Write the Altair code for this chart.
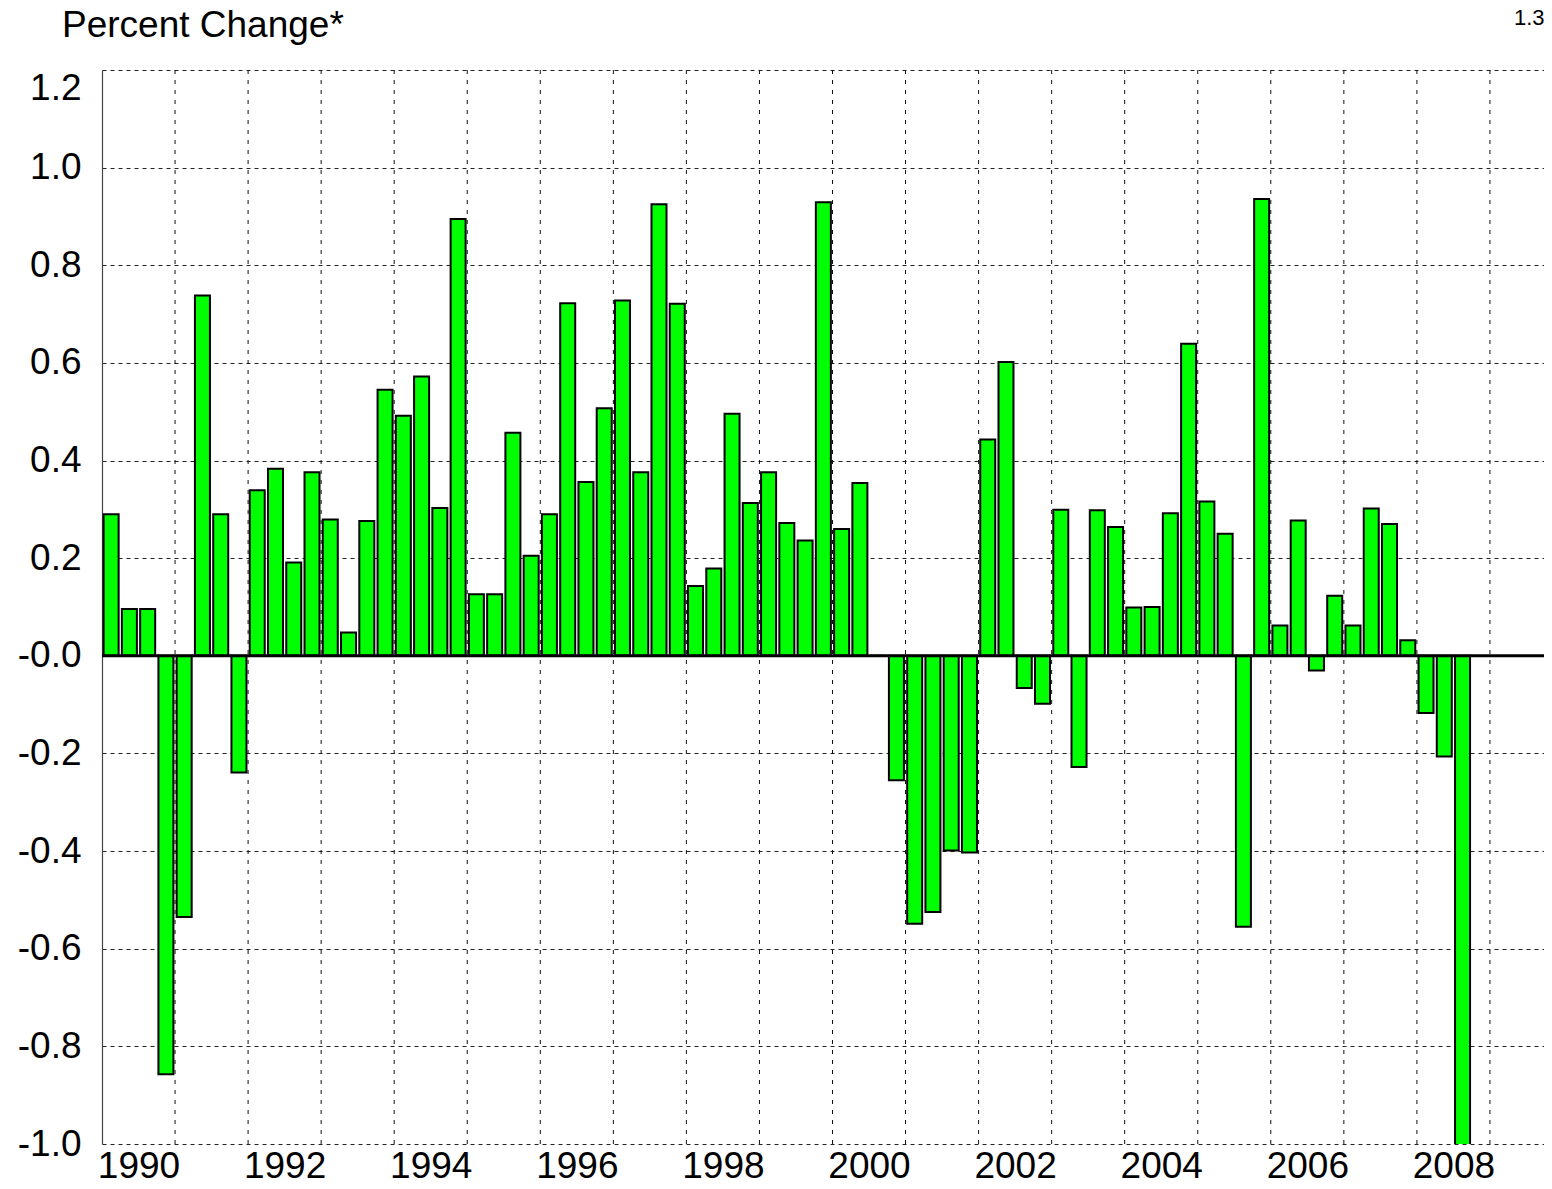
import altair as alt
import pandas as pd

# ---- data (quarterly, 1990 Q1 .. 2008 Q4) ----
start_year = 1990
values = [
    0.290, 0.096, 0.096, -0.857,   # 1990
    -0.535, 0.738, 0.290, -0.239,  # 1991
    0.339, 0.383, 0.191, 0.376,    # 1992
    0.279, 0.048, 0.276, 0.545,    # 1993
    0.492, 0.572, 0.303, 0.895,    # 1994
    0.126, 0.126, 0.457, 0.205,    # 1995
    0.290, 0.722, 0.356, 0.507,    # 1996
    0.728, 0.376, 0.925, 0.721,    # 1997
    0.143, 0.179, 0.496, 0.313,    # 1998
    0.376, 0.272, 0.236, 0.929,    # 1999
    0.260, 0.354, 0.0, -0.255,     # 2000
    -0.549, -0.525, -0.399, -0.403,  # 2001
    0.443, 0.602, -0.066, -0.098,  # 2002
    0.299, -0.228, 0.298, 0.264,   # 2003
    0.099, 0.100, 0.292, 0.639,    # 2004
    0.316, 0.250, -0.555, 0.936,   # 2005
    0.062, 0.277, -0.030, 0.123,   # 2006
    0.062, 0.302, 0.270, 0.032,    # 2007
    -0.117, -0.206, -1.30, None,   # 2008
]
year_lines = list(range(1991, 2010))
label_years = list(range(1990, 2009, 2))
y_ticks = [-1.0, -0.8, -0.6, -0.4, -0.2, 0.0, 0.2, 0.4, 0.6, 0.8, 1.0, 1.2]
title_text = ["Percent Change*"]
corner_text = ["1.3"]

rows = []
for i, v in enumerate(values):
    if v is None:
        continue
    rows.append({"t": start_year + (i + 0.5) / 4.0, "v": v})
df = pd.DataFrame(rows)

FONT = "Liberation Sans"
x_scale = alt.Scale(domain=[1990, 2009.74], nice=False, zero=False, padding=0)
y_scale = alt.Scale(domain=[-1.0, 1.2], nice=False, zero=False, padding=0)

vgrid = alt.Chart(pd.DataFrame({"yr": year_lines})).mark_rule(
    color="#111", strokeWidth=1, strokeDash=[4, 6]
).encode(x=alt.X("yr:Q", scale=x_scale))

bars = alt.Chart(df).mark_bar(
    fill="#00FF00", stroke="#000000", strokeWidth=2, width=15, clip=True
).encode(
    x=alt.X(
        "t:Q",
        scale=x_scale,
        axis=alt.Axis(
            values=[y + 0.5 for y in label_years],
            labelExpr="'' + floor(datum.value)",
            grid=False, ticks=False, domain=False,
            labelFont=FONT, labelFontSize=37, labelColor="#000",
            labelPadding=4, labelFlush=False, title=None,
        ),
    ),
    y=alt.Y(
        "v:Q",
        scale=y_scale,
        axis=alt.Axis(
            values=y_ticks,
            labelExpr="datum.value == 0 ? '-0.0' : (datum.value < 0 ? '-' : '') + format(abs(datum.value), '.1f')",
            grid=True, gridDash=[4, 4], gridColor="#222", gridWidth=1,
            ticks=False, domain=True, domainColor="#444", domainWidth=1.2,
            labelFont=FONT, labelFontSize=37, labelColor="#000",
            labelPadding=21, labelFlush=False, title=None,
            labelBaseline={"condition": {"test": "datum.value > 1.1", "value": "top"}, "value": "middle"},
        ),
    ),
)

zero = alt.Chart(pd.DataFrame({"z": [0.0]})).mark_rule(
    color="#000", strokeWidth=3
).encode(y=alt.Y("z:Q", scale=y_scale))

title = alt.Chart(pd.DataFrame({"label": title_text})).mark_text(
    font=FONT, fontSize=37, align="left", baseline="alphabetic", color="#000"
).encode(text="label:N", x=alt.value(-40), y=alt.value(-33))

corner = alt.Chart(pd.DataFrame({"label": corner_text})).mark_text(
    font=FONT, fontSize=22, align="left", baseline="alphabetic", color="#000"
).encode(text="label:N", x=alt.value(1412), y=alt.value(-45))

chart = alt.layer(vgrid, bars, zero, title, corner).properties(
    width=1442,
    height=1074,
    autosize=alt.AutoSizeParams(type="none"),
    padding={"left": 94, "top": 62, "right": 0, "bottom": 34},
    background="white",
).configure_view(stroke=None)

chart.save("out.html", embed_options={"renderer": "svg", "actions": False})
